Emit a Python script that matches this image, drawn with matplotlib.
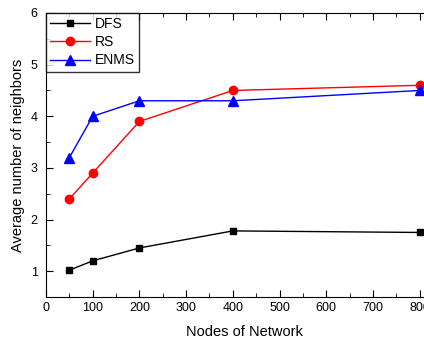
import matplotlib.pyplot as plt
from matplotlib.ticker import MultipleLocator

plt.rcParams['font.family'] = ['Liberation Sans', 'DejaVu Sans']

nodes = [50, 100, 200, 400, 800]
dfs = [1.02, 1.2, 1.45, 1.78, 1.75]
rs = [2.4, 2.9, 3.9, 4.5, 4.6]
enms = [3.2, 4.0, 4.3, 4.3, 4.5]

fig = plt.figure(figsize=(4.24, 3.40), dpi=100)
ax = fig.add_axes([46 / 424, 43 / 340, 397 / 424, 284 / 340])

ax.plot(nodes, dfs, 'k-', marker='s', markersize=5, linewidth=1, label='DFS')
ax.plot(nodes, rs, 'r-', marker='o', markersize=6, linewidth=1, label='RS')
ax.plot(nodes, enms, 'b-', marker='^', markersize=6.5, linewidth=1, label='ENMS')

ax.set_xlim(0, 850)
ax.set_ylim(0.5, 6)
ax.xaxis.set_major_locator(MultipleLocator(100))
ax.xaxis.set_minor_locator(MultipleLocator(50))
ax.yaxis.set_major_locator(MultipleLocator(1))
ax.yaxis.set_minor_locator(MultipleLocator(0.5))
ax.tick_params(which='both', direction='in', top=True, labelsize=9)
ax.tick_params(which='major', length=5)
ax.tick_params(which='minor', length=3)
ax.tick_params(axis='y', pad=6)

ax.set_xlabel('Nodes of Network', fontsize=10.5, labelpad=8)
ax.set_ylabel('Average number of neighbors', fontsize=10.5, labelpad=4)

leg = ax.legend(loc='upper left', fontsize=10, fancybox=False, edgecolor='black',
                borderaxespad=0, handlelength=2.9, labelspacing=0.3,
                borderpad=0.3, handletextpad=0.3)
leg.get_frame().set_linewidth(1)

fig.savefig('out.png', dpi=100)
